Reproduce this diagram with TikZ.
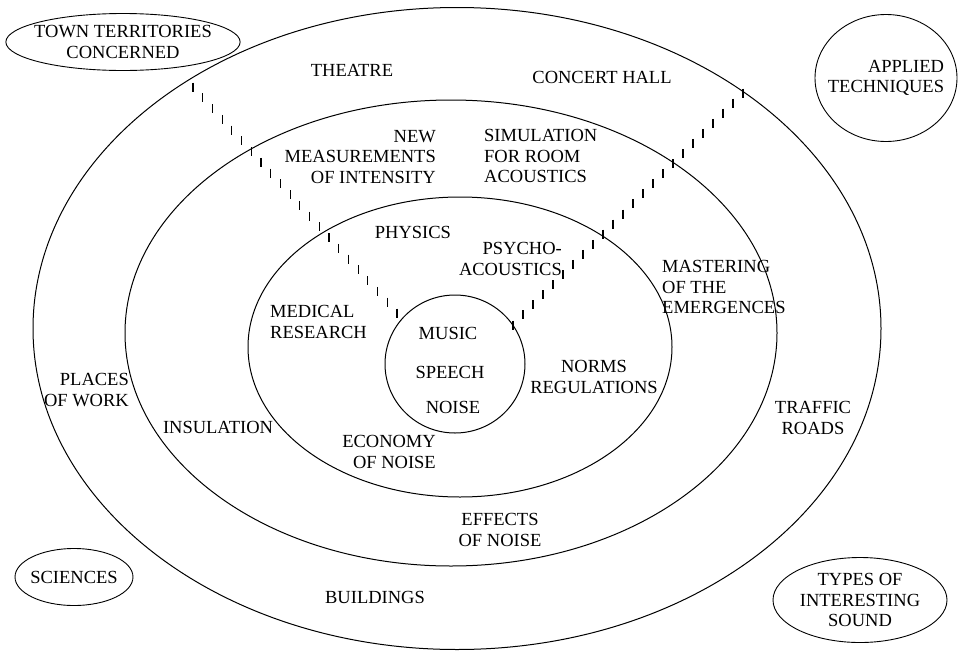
\documentclass[tikz,border=0pt]{standalone}
\usepackage{fontspec}
\setmainfont{Liberation Serif}
\usepackage{tikz}
\usetikzlibrary{
    shapes,
    shapes.geometric,
    calc
}
\tikzset{
  ring/.style = {
      draw,
      line width=1pt
  },
  topic/.style = {
      font=\fontsize{18.5}{20.5}\selectfont,
      align=center,
      inner sep=0pt
  },
  corner/.style = {
      topic,
      draw,
      ellipse,
      line width=0.9pt
  },
  tick/.style = {
      line width=1.1pt
  }
}

\begin{document}
\begin{tikzpicture}[x=1pt,y=-1pt]
        \useasboundingbox (0,0) rectangle (959,651);
        % Rings
        \draw[ring] (457,328.5) ellipse [x radius=424pt, y radius=321pt];
        \draw[ring] (451,333) ellipse [x radius=326pt, y radius=233pt];
        \draw[ring] (460,347) ellipse [x radius=212pt, y radius=150pt];
        \draw[ring] (455,364) ellipse [x radius=70pt, y radius=69pt];
        % Corners
        \node[corner, inner xsep=-6pt, minimum width=233pt, minimum height=57pt] (town) at (123,42) {TOWN TERRITORIES\\CONCERNED};
        \node[corner, align=right, inner xsep=-8pt, minimum width=142pt, minimum height=127pt] (applied) at (886,78) {APPLIED\\TECHNIQUES};
        \node[corner, inner xsep=-3pt, minimum width=118pt, minimum height=57pt] (sciences) at (74,577) {SCIENCES};
        \node[corner, minimum width=174pt, minimum height=85pt] (types) at (860,600) {TYPES OF\\INTERESTING\\SOUND};
        % Outer ring
        \node[topic] (theatre) at (352,70) {THEATRE};
        \node[topic] (concert) at (602,77) {CONCERT HALL};
        \node[topic, align=right, anchor=east] (places) at (129,390) {PLACES\\OF WORK};
        \node[topic] (traffic) at (813,418) {TRAFFIC\\ROADS};
        \node[topic] (buildings) at (375,597) {BUILDINGS};
        % Second ring
        \node[topic, align=right, anchor=east] (measure) at (436,157) {NEW\\MEASUREMENTS\\OF INTENSITY};
        \node[topic, align=left, anchor=west] (simul) at (484,156) {SIMULATION\\FOR ROOM\\ACOUSTICS};
        \node[topic, align=left, anchor=west] (master) at (662,287) {MASTERING\\OF THE\\EMERGENCES};
        \node[topic] (insul) at (218,427) {INSULATION};
        \node[topic] (effects) at (500,530) {EFFECTS\\OF NOISE};
        % Third ring
        \node[topic] (physics) at (413,232) {PHYSICS};
        \node[topic, align=right, anchor=east] (psycho) at (562,259) {PSYCHO-\\ACOUSTICS};
        \node[topic, align=left, anchor=west] (medical) at (270,322) {MEDICAL\\RESEARCH};
        \node[topic] (norms) at (594,377) {NORMS\\REGULATIONS};
        \node[topic, align=right, anchor=east] (economy) at (436,452) {ECONOMY\\OF NOISE};
        % Centre
        \node[topic] (music) at (448,333) {MUSIC};
        \node[topic] (speech) at (450,372) {SPEECH};
        \node[topic] (noise) at (453,407) {NOISE};
        % Cuts
        \coordinate (lt) at (193,87);
        \coordinate (lb) at (397,313);
        \coordinate (rt) at (743,93);
        \coordinate (rb) at (513,325);
        \foreach \i in {0,...,21}
            \draw[tick] ($(lt)!\i/21!(lb)$) +(0,-4.5) -- +(0,4.5);
        \foreach \i in {0,...,23}
            \draw[tick] ($(rt)!\i/23!(rb)$) +(0,-4.5) -- +(0,4.5);
    \end{tikzpicture}
\end{document}
